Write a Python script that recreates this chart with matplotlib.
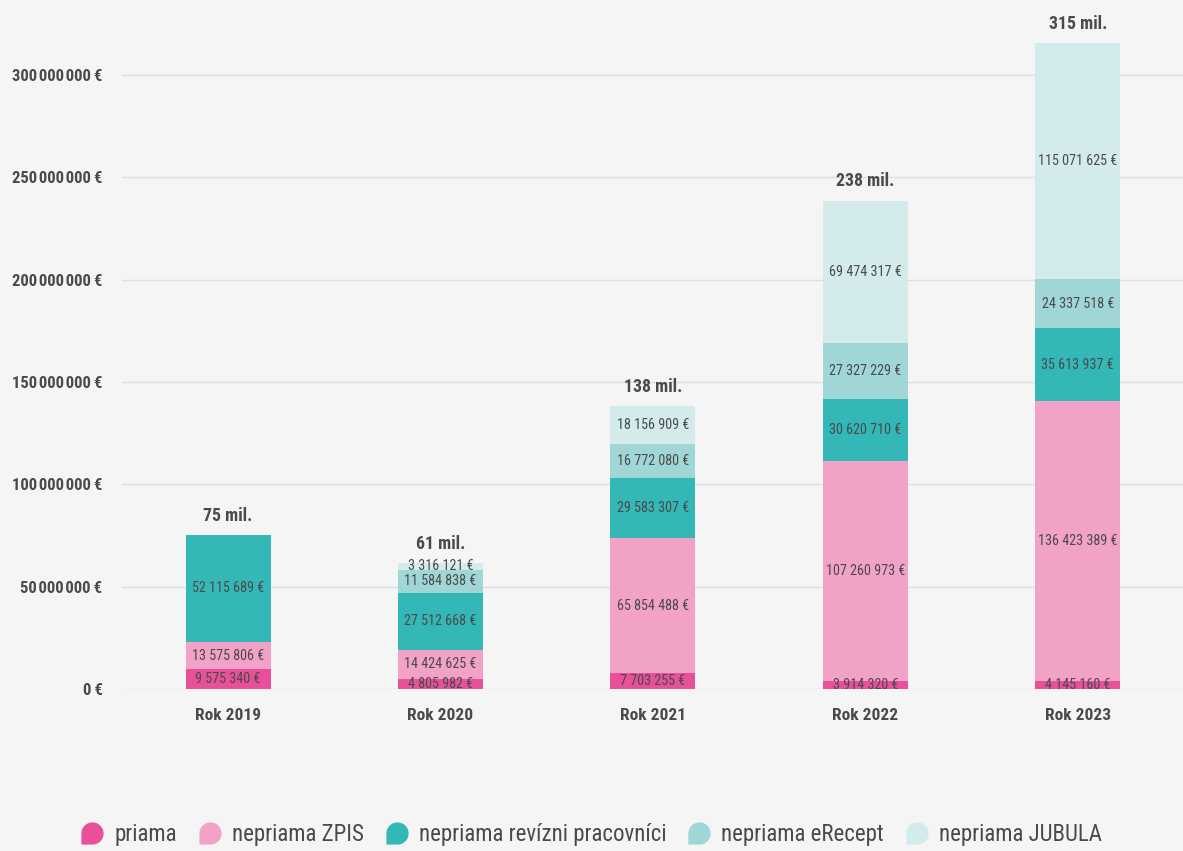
import matplotlib
matplotlib.use("Agg")
import matplotlib.pyplot as plt
from matplotlib.lines import Line2D
from matplotlib.path import Path
from matplotlib.ticker import FuncFormatter
import numpy as np

plt.rcParams["font.family"] = ["Roboto Condensed", "Liberation Sans Narrow",
                               "Liberation Sans", "DejaVu Sans"]

years = ["Rok 2019", "Rok 2020", "Rok 2021", "Rok 2022", "Rok 2023"]
series = ["priama", "nepriama ZPIS", "nepriama revízni pracovníci",
          "nepriama eRecept", "nepriama JUBULA"]
priama = [9575340, 4805982, 7703255, 3914320, 4145160]
zpis = [13575806, 14424625, 65854488, 107260973, 136423389]
revizni = [52115689, 27512668, 29583307, 30620710, 35613937]
erecept = [0, 11584838, 16772080, 27327229, 24337518]
jubula = [0, 3316121, 18156909, 69474317, 115071625]
totals = ["75 mil.", "61 mil.", "138 mil.", "238 mil.", "315 mil."]

colors = ["#e9509a", "#f2a2c7", "#33b7b7", "#a0d6d6", "#d3ebeb"]
bg = "#f5f5f5"
txt = "#4a4a4a"


def fmt_eur(v):
    return f"{int(v):,}".replace(",", " ") + " €"


fig = plt.figure(figsize=(11.83, 8.51), dpi=100, facecolor=bg)
ax = fig.add_axes([0.103, 1 - 689 / 851, 0.897, 689 / 851])
ax.set_facecolor(bg)

x = np.arange(len(years))
bottom = np.zeros(len(years))
for name, vals, c in zip(series, [priama, zpis, revizni, erecept, jubula], colors):
    vals = np.array(vals, dtype=float)
    ax.bar(x, vals, 0.4, bottom=bottom, color=c, label=name, zorder=2)
    for xi, b, v in zip(x, bottom, vals):
        if v > 0:
            ax.text(xi, b + v / 2, fmt_eur(v), ha="center", va="center",
                    fontsize=10.2, color=txt, zorder=3)
    bottom += vals

for xi, top, lab in zip(x, bottom, totals):
    ax.text(xi, top + 5e6, lab, ha="center", va="bottom", fontsize=12.8,
            fontweight="bold", color=txt)

ax.set_xlim(-0.5, 4.5 - 5 / 1061 * 1.0)
ax.set_ylim(0, 689 / 614 * 300e6)
ax.set_yticks(np.arange(0, 300e6 + 1, 50e6))
ax.yaxis.set_major_formatter(FuncFormatter(
    lambda v, p: f"{int(v):,}".replace(",", "\u200a") + "\u2009€"))
ax.set_xticks(x)
ax.set_xticklabels(years)
ax.tick_params(axis="both", length=0, colors=txt)
ax.tick_params(axis="y", pad=14, labelsize=12)
ax.tick_params(axis="x", pad=14, labelsize=12.5)
for lab in ax.get_xticklabels() + ax.get_yticklabels():
    lab.set_fontweight("bold")
ax.grid(axis="y", color="#dedede", linewidth=1, zorder=0)
for s in ax.spines.values():
    s.set_visible(False)

# legend marker: rounded drop with a square bottom-left corner
t = np.linspace(-np.pi / 2, np.pi, 40)
verts = np.column_stack([np.cos(t), np.sin(t)])
verts = np.vstack([verts, [[-1, -1], [0, -1]]])
drop = Path(verts, closed=True)

handles = [Line2D([], [], marker=drop, linestyle="none", markersize=15,
                  markerfacecolor=c, markeredgecolor=c) for c in colors]
fig.legend(handles, series, loc="center", bbox_to_anchor=(0.5, 1 - 835 / 851),
           ncol=5, frameon=False, fontsize=16.5, handlelength=1.0,
           handletextpad=0.46, columnspacing=0.94, labelcolor=txt)

fig.savefig("out.png", dpi=100, facecolor=bg)
